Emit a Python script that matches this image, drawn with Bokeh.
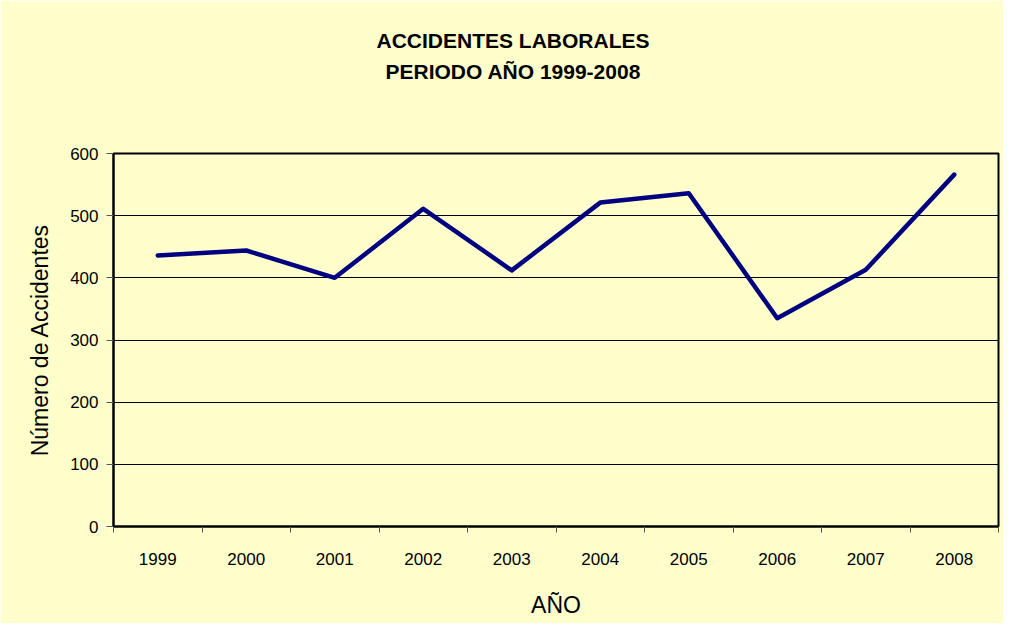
from bokeh.plotting import figure
from bokeh.models import FixedTicker, Range1d, Title
from bokeh.embed import file_html
from bokeh.resources import INLINE

years = ["1999", "2000", "2001", "2002", "2003", "2004", "2005", "2006", "2007", "2008"]
accidentes = [436, 444, 400, 511, 412, 521, 536, 335, 413, 566]
y_ticks = [0, 100, 200, 300, 400, 500, 600]
title_lines = ["ACCIDENTES LABORALES", "PERIODO AÑO 1999-2008"]
title_offsets = [263, 272]

BG = "#FFFFCC"
FONT = "Liberation Sans"

xpos = [i + 0.5 for i in range(len(years))]

p = figure(width=1003, height=623, output_backend="svg", toolbar_location=None,
           x_range=Range1d(0, len(years)), y_range=Range1d(0, 600),
           min_border_left=113, min_border_right=5, min_border_top=153, min_border_bottom=97)

p.background_fill_color = BG
p.border_fill_color = BG
p.outline_line_color = "black"
p.outline_line_width = 2
p.title.text = ""

# spacer panel between frame and title lines
p.add_layout(Title(text=" ", text_font_size="1px", standoff=65, text_color=BG), "above")
for txt, off in reversed(list(zip(title_lines, title_offsets))):
    p.add_layout(Title(text=txt, align="left", offset=off, text_font=FONT, text_font_size="21px",
                       text_font_style="bold", text_color="black", standoff=6), "above")

p.line(xpos, accidentes, line_color="#000080", line_width=4.5, line_join="round", line_cap="round")

# x axis
p.xaxis.ticker = FixedTicker(ticks=xpos, minor_ticks=list(range(len(years) + 1)))
p.xaxis.major_label_overrides = {x: y for x, y in zip(xpos, years)}
p.xaxis.major_tick_line_color = None
p.xaxis.minor_tick_line_color = "#555555"
p.xaxis.minor_tick_out = 6
p.xaxis.minor_tick_in = 0
p.xaxis.axis_line_color = "black"
p.xaxis.axis_line_width = 2
p.xaxis.major_label_text_font = FONT
p.xaxis.major_label_text_font_size = "17px"
p.xaxis.major_label_text_color = "black"
p.xaxis.major_label_standoff = 20
p.xaxis.axis_label = "AÑO"
p.xaxis.axis_label_text_font = FONT
p.xaxis.axis_label_text_font_size = "23px"
p.xaxis.axis_label_text_font_style = "normal"
p.xaxis.axis_label_text_color = "black"
p.xaxis.axis_label_standoff = 24

# y axis
p.yaxis.ticker = FixedTicker(ticks=y_ticks)
p.yaxis.minor_tick_line_color = None
p.yaxis.major_tick_line_color = "#555555"
p.yaxis.major_tick_out = 7
p.yaxis.major_tick_in = 0
p.yaxis.axis_line_color = "black"
p.yaxis.axis_line_width = 2
p.yaxis.major_label_text_font = FONT
p.yaxis.major_label_text_font_size = "17px"
p.yaxis.major_label_text_color = "black"
p.yaxis.major_label_standoff = 8
p.yaxis.axis_label = "Número de Accidentes"
p.yaxis.axis_label_text_font = FONT
p.yaxis.axis_label_text_font_size = "23px"
p.yaxis.axis_label_text_font_style = "normal"
p.yaxis.axis_label_text_color = "black"
p.yaxis.axis_label_standoff = 14

p.xgrid.grid_line_color = None
p.ygrid.grid_line_color = "black"
p.ygrid.grid_line_width = 1

open("out.html", "w").write(file_html(p, INLINE))
